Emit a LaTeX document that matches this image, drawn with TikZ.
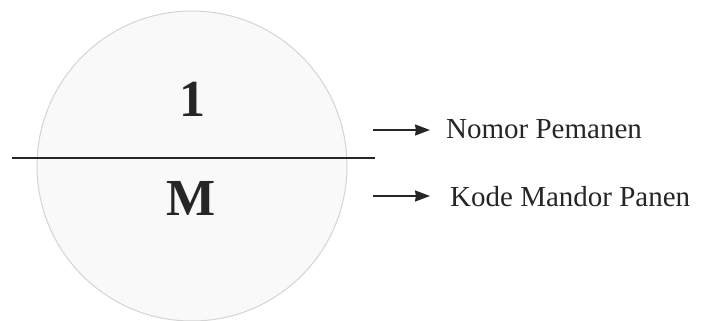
\documentclass[tikz,border=0pt]{standalone}
\usepackage{fontspec}
\setmainfont{Liberation Serif}
\usetikzlibrary{arrows.meta}
\definecolor{rimgray}{HTML}{D4D4D4}
\definecolor{discfill}{HTML}{F9F9F9}
\definecolor{inkgray}{HTML}{262626}
\tikzset{
  disc/.style={circle, draw=rimgray, fill=discfill, line width=1pt, minimum size=310pt, inner sep=0pt},
  bigtext/.style={font=\fontsize{52}{60}\selectfont\bfseries, text=inkgray, inner sep=0pt, anchor=base},
  divider/.style={draw=inkgray, line width=1.6pt},
  pointer/.style={draw=inkgray, line width=1.8pt, -{Stealth[length=15pt,width=11pt,inset=1pt]}},
  label/.style={font=\fontsize{29}{33}\selectfont, text=inkgray, anchor=base west, inner xsep=0pt, inner ysep=0pt}
}
\begin{document}
\begin{tikzpicture}[x=1pt,y=1pt]
\useasboundingbox (0,0) rectangle (704,321);
\node[disc] (c) at (192,155) {};
\coordinate (l1) at (12,163);
\coordinate (l2) at (375,163);
\draw[divider] (l1) -- (l2);
\node[bigtext] (one) at (192,204) {1};
\node[bigtext] (em) at (191,105) {M};
\coordinate (a1) at (373,191);
\coordinate (a2) at (373,125);
\node[label] (t1) at (446,182) {Nomor Pemanen};
\node[label] (t2) at (450,114) {Kode Mandor Panen};
\draw[pointer] (a1) -- ([xshift=-16pt]a1 -| t1.west);
\draw[pointer] (a2) -- ([xshift=-20pt]a2 -| t2.west);
\end{tikzpicture}
\end{document}
